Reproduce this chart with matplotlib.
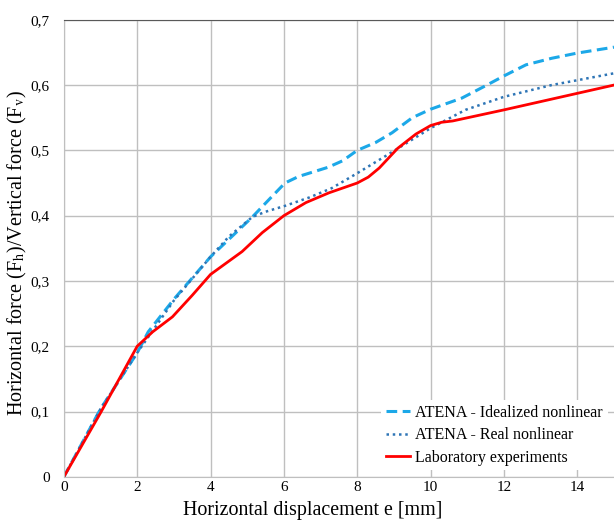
import matplotlib.pyplot as plt
from matplotlib.ticker import FuncFormatter

# displacement [mm] vs. Fh/Fv
x_ideal = [0, 1, 2, 2.3, 3, 4, 5.14, 5.6, 6.03, 6.4, 7.2, 7.6, 8, 8.5, 8.95, 9.5, 10, 10.85, 11.5, 12, 12.6, 13.3, 14, 15]
y_ideal = [0, 0.104, 0.19, 0.222, 0.272, 0.337, 0.398, 0.425, 0.45, 0.46, 0.474, 0.484, 0.50, 0.512, 0.527, 0.55, 0.563, 0.58, 0.599, 0.614, 0.631, 0.641, 0.649, 0.658]

x_real = [0, 1, 2, 3, 4, 4.5, 5.14, 5.5, 6.03, 6.7, 7.3, 8, 8.85, 10, 10.95, 12, 13.3, 15]
y_real = [0, 0.104, 0.19, 0.27, 0.337, 0.368, 0.398, 0.406, 0.415, 0.428, 0.442, 0.465, 0.494, 0.534, 0.562, 0.582, 0.60, 0.618]

x_lab = [0, 1, 2, 2.42, 2.96, 3.5, 4, 4.86, 5.41, 6, 6.6, 7.23, 8, 8.3, 8.6, 9.1, 9.6, 10, 10.3, 10.6, 12, 15]
y_lab = [0, 0.098, 0.2, 0.222, 0.245, 0.278, 0.31, 0.345, 0.374, 0.40, 0.42, 0.435, 0.45, 0.459, 0.473, 0.503, 0.525, 0.538, 0.543, 0.545, 0.562, 0.60]

xticks = [0, 2, 4, 6, 8, 10, 12, 14]
yticks = [0, 0.1, 0.2, 0.3, 0.4, 0.5, 0.6, 0.7]

plt.rcParams['font.family'] = ['Liberation Serif', 'DejaVu Serif']
plt.rcParams['mathtext.fontset'] = 'stix'

fig = plt.figure(figsize=(6.14, 5.2), dpi=100)
ax = fig.add_axes([0.104, 0.083, 0.896, 0.879])

ax.plot(x_ideal, y_ideal, color='#1ca8e8', linestyle=(0, (3.5, 1.8)), linewidth=2.2,
        label='ATENA - Idealized nonlinear')
ax.plot(x_real, y_real, color='#2e75b6', linestyle=(0, (1, 1.5)), linewidth=1.8,
        label='ATENA - Real nonlinear')
ax.plot(x_lab, y_lab, color='#ff0000', linewidth=2.0, label='Laboratory experiments')

ax.set_xlim(0, 15)
ax.set_ylim(0, 0.7)
ax.set_xticks(xticks)
ax.set_yticks(yticks)
ax.yaxis.set_major_formatter(FuncFormatter(lambda v, p: ('%g' % round(v, 1)).replace('.', ',')))
ax.tick_params(length=0, labelsize=11)
ax.tick_params(axis='y', pad=10)
ax.tick_params(axis='x', pad=3)
ax.grid(True, color='#bfbfbf', linewidth=1)
ax.set_axisbelow(True)

ax.spines['right'].set_visible(False)
ax.spines['top'].set_color('#595959')
ax.spines['left'].set_color('#bfbfbf')
ax.spines['bottom'].set_color('#bfbfbf')

ax.set_xlabel('Horizontal displacement e [mm]', fontsize=14.4)
ax.xaxis.set_label_coords(0.453, -0.052)
ax.set_ylabel(r'Horizontal force (F$_\mathrm{h}$)/Vertical force (F$_\mathrm{v}$)', fontsize=14.5)
ax.yaxis.set_label_coords(-0.063, 0.49)

leg = ax.legend(loc='lower right', bbox_to_anchor=(1.0, 0.0), fontsize=11.5, frameon=True,
                fancybox=False, edgecolor='none', framealpha=1, handlelength=1.55,
                handletextpad=0.3, labelspacing=0.4, borderpad=0.3, borderaxespad=0.4)

fig.savefig('out.png', dpi=100)
